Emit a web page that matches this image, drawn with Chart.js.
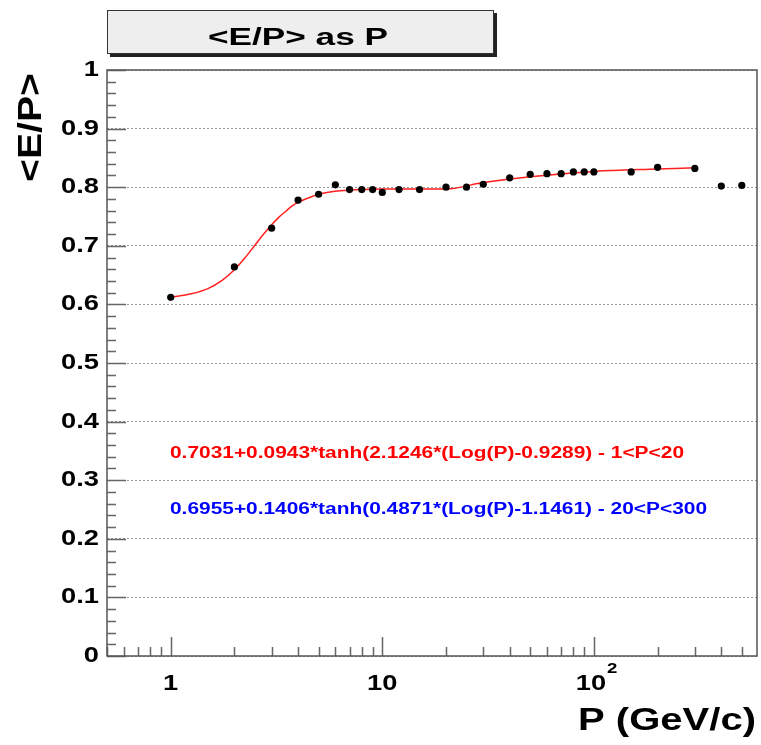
<!DOCTYPE html>
<html>
<head>
<meta charset="utf-8">
<script src="https://cdn.jsdelivr.net/npm/chart.js@4.4.0/dist/chart.umd.min.js"></script>
<style>
  body { margin: 0; background: #fff; }
  #wrap { width: 761px; height: 745px; }
</style>
</head>
<body>
<div id="wrap"><canvas id="chart" width="761" height="745"></canvas></div>
<script>
// Measured points (P in GeV/c, mean E/P)
var momentum = [1, 2, 3, 4, 5, 6, 7, 8, 9, 10, 12, 15, 20, 25, 30, 40, 50, 60, 70, 80, 90, 100, 150, 200, 300, 400, 500];
var ratio = [0.612, 0.664, 0.730, 0.778, 0.788, 0.804, 0.796, 0.796, 0.796, 0.791, 0.796, 0.796, 0.800, 0.800, 0.805,
             0.816, 0.822, 0.823, 0.823, 0.826, 0.826, 0.826, 0.826, 0.834, 0.832, 0.802, 0.803];

// Fit curve
var fitP = [1, 1.25, 1.5, 1.75, 2, 2.25, 2.5, 2.75, 3, 3.25, 3.5, 3.75, 4, 4.5, 5, 6, 7, 8, 10, 15, 20, 30, 50, 100, 200, 300];
var fitRatio = [0.612, 0.618, 0.627, 0.641, 0.659, 0.680, 0.701, 0.720, 0.736, 0.749, 0.759, 0.768, 0.774, 0.782,
                0.788, 0.793, 0.795, 0.796, 0.797, 0.797, 0.797, 0.808, 0.818, 0.827, 0.831, 0.833];

// Axis labels
var xTickValues = [1, 10, 100];
var xTickLabels = ["1", "10", "10^2"];
var chartTitle = "<E/P> as P";
var xTitle = "P (GeV/c)";
var yTitle = "<E/P>";
var fitLabels = ["0.7031+0.0943*tanh(2.1246*(Log(P)-0.9289) - 1<P<20",
                 "0.6955+0.1406*tanh(0.4871*(Log(P)-1.1461) - 20<P<300"];
var fitColors = ["#ff0000", "#0000ff"];

var FONT = '"Liberation Sans", Arial, Helvetica, sans-serif';
var STRETCH = 1.24;

function stretchText(ctx, str, x, y, size, sx, align, baseline, color) {
  ctx.save();
  ctx.font = "bold " + size + "px " + FONT;
  ctx.fillStyle = color || "#000";
  ctx.textAlign = align;
  ctx.textBaseline = baseline;
  ctx.translate(x, y);
  ctx.scale(sx, 1);
  ctx.fillText(str, 0, 0);
  ctx.restore();
}

function fitText(ctx, str, x, y, size, width, align, color) {
  ctx.save();
  ctx.font = "bold " + size + "px " + FONT;
  var w = ctx.measureText(str).width;
  ctx.restore();
  stretchText(ctx, str, x, y, size, width / w, align, "alphabetic", color);
}

var rootStyle = {
  id: "rootStyle",
  afterDraw: function(chart) {
    var ctx = chart.ctx;
    var a = chart.chartArea;
    var xs = chart.scales.x, ys = chart.scales.y;

    // tick marks, ROOT style (inside the frame)
    ctx.save();
    ctx.strokeStyle = "#666";
    ctx.lineWidth = 1.5;
    ctx.beginPath();
    for (var d = 0.1; d <= 1000; d *= 10) {
      for (var m = 1; m <= 9; m++) {
        var v = d * m;
        if (v < xs.min || v > xs.max) continue;
        var px = Math.round(xs.getPixelForValue(v)) + 0.5;
        var len = m === 1 ? 19 : 9;
        ctx.moveTo(px, a.bottom);
        ctx.lineTo(px, a.bottom - len);
      }
    }
    for (var i = 0; i <= 50; i++) {
      var py = Math.round(ys.getPixelForValue(i * 0.02)) + 0.5;
      var l = i % 5 === 0 ? 19 : 9;
      ctx.moveTo(a.left, py);
      ctx.lineTo(a.left + l, py);
    }
    ctx.stroke();

    // frame
    ctx.strokeStyle = "#555";
    ctx.lineWidth = 1.5;
    ctx.strokeRect(a.left, a.top, a.right - a.left, a.bottom - a.top);
    ctx.restore();

    // y tick labels
    ys.ticks.forEach(function(t) {
      var v = Math.round(t.value * 10) / 10;
      var lab = (v === 0 || v === 1) ? String(v) : v.toFixed(1);
      stretchText(ctx, lab, 99, ys.getPixelForValue(v), 22, STRETCH, "right", "middle");
    });

    // x tick labels
    xTickValues.forEach(function(v, k) {
      var px = xs.getPixelForValue(v);
      var parts = xTickLabels[k].split("^");
      if (parts.length === 1) {
        stretchText(ctx, parts[0], px, 690, 22, STRETCH, "center", "alphabetic");
      } else {
        stretchText(ctx, parts[0], px - 3, 690, 22, STRETCH, "center", "alphabetic");
        stretchText(ctx, parts[1], px + 13, 673, 15, STRETCH, "left", "alphabetic");
      }
    });

    // axis titles
    fitText(ctx, xTitle, 756, 730, 32, 178, "right");
    ctx.save();
    ctx.translate(41, 73);
    ctx.rotate(-Math.PI / 2);
    fitText(ctx, yTitle, 0, 0, 34, 109, "right");
    ctx.restore();

    // fit formulas
    fitText(ctx, fitLabels[0], 170, 458, 16, 514, "left", fitColors[0]);
    fitText(ctx, fitLabels[1], 170, 514, 16, 537, "left", fitColors[1]);

    // title box
    ctx.save();
    ctx.fillStyle = "#222";
    ctx.fillRect(110, 13, 387, 44);
    ctx.fillStyle = "#eeeeee";
    ctx.fillRect(107, 10, 387, 44);
    ctx.strokeStyle = "#333";
    ctx.lineWidth = 1;
    ctx.strokeRect(107.5, 10.5, 386, 43);
    ctx.restore();
    fitText(ctx, chartTitle, 298, 45, 23, 180, "center");
  }
};

var pts = momentum.map(function(p, i) { return { x: p, y: ratio[i] }; });
var fit = fitP.map(function(p, i) { return { x: p, y: fitRatio[i] }; });

new Chart(document.getElementById("chart"), {
  type: "scatter",
  data: {
    datasets: [
      {
        label: "data",
        data: pts,
        pointRadius: 3.6,
        pointBackgroundColor: "#000",
        pointBorderColor: "#000",
        borderWidth: 0,
        showLine: false
      },
      {
        label: "fit",
        data: fit,
        showLine: true,
        pointRadius: 0,
        borderColor: "#ff2020",
        borderWidth: 1.5,
        cubicInterpolationMode: "monotone"
      }
    ]
  },
  options: {
    responsive: false,
    animation: false,
    layout: { padding: { left: 107, top: 70, right: 4, bottom: 89 } },
    plugins: { legend: { display: false }, tooltip: { enabled: false } },
    scales: {
      x: {
        type: "logarithmic",
        min: 0.5,
        max: 590,
        grid: { display: false, drawTicks: false },
        border: { display: false },
        ticks: { display: false }
      },
      y: {
        min: 0,
        max: 1,
        ticks: { display: false, stepSize: 0.1 },
        grid: { color: "#999", lineWidth: 1, drawTicks: false },
        border: { display: false, dash: [2, 2] }
      }
    }
  },
  plugins: [rootStyle]
});
</script>
</body>
</html>
